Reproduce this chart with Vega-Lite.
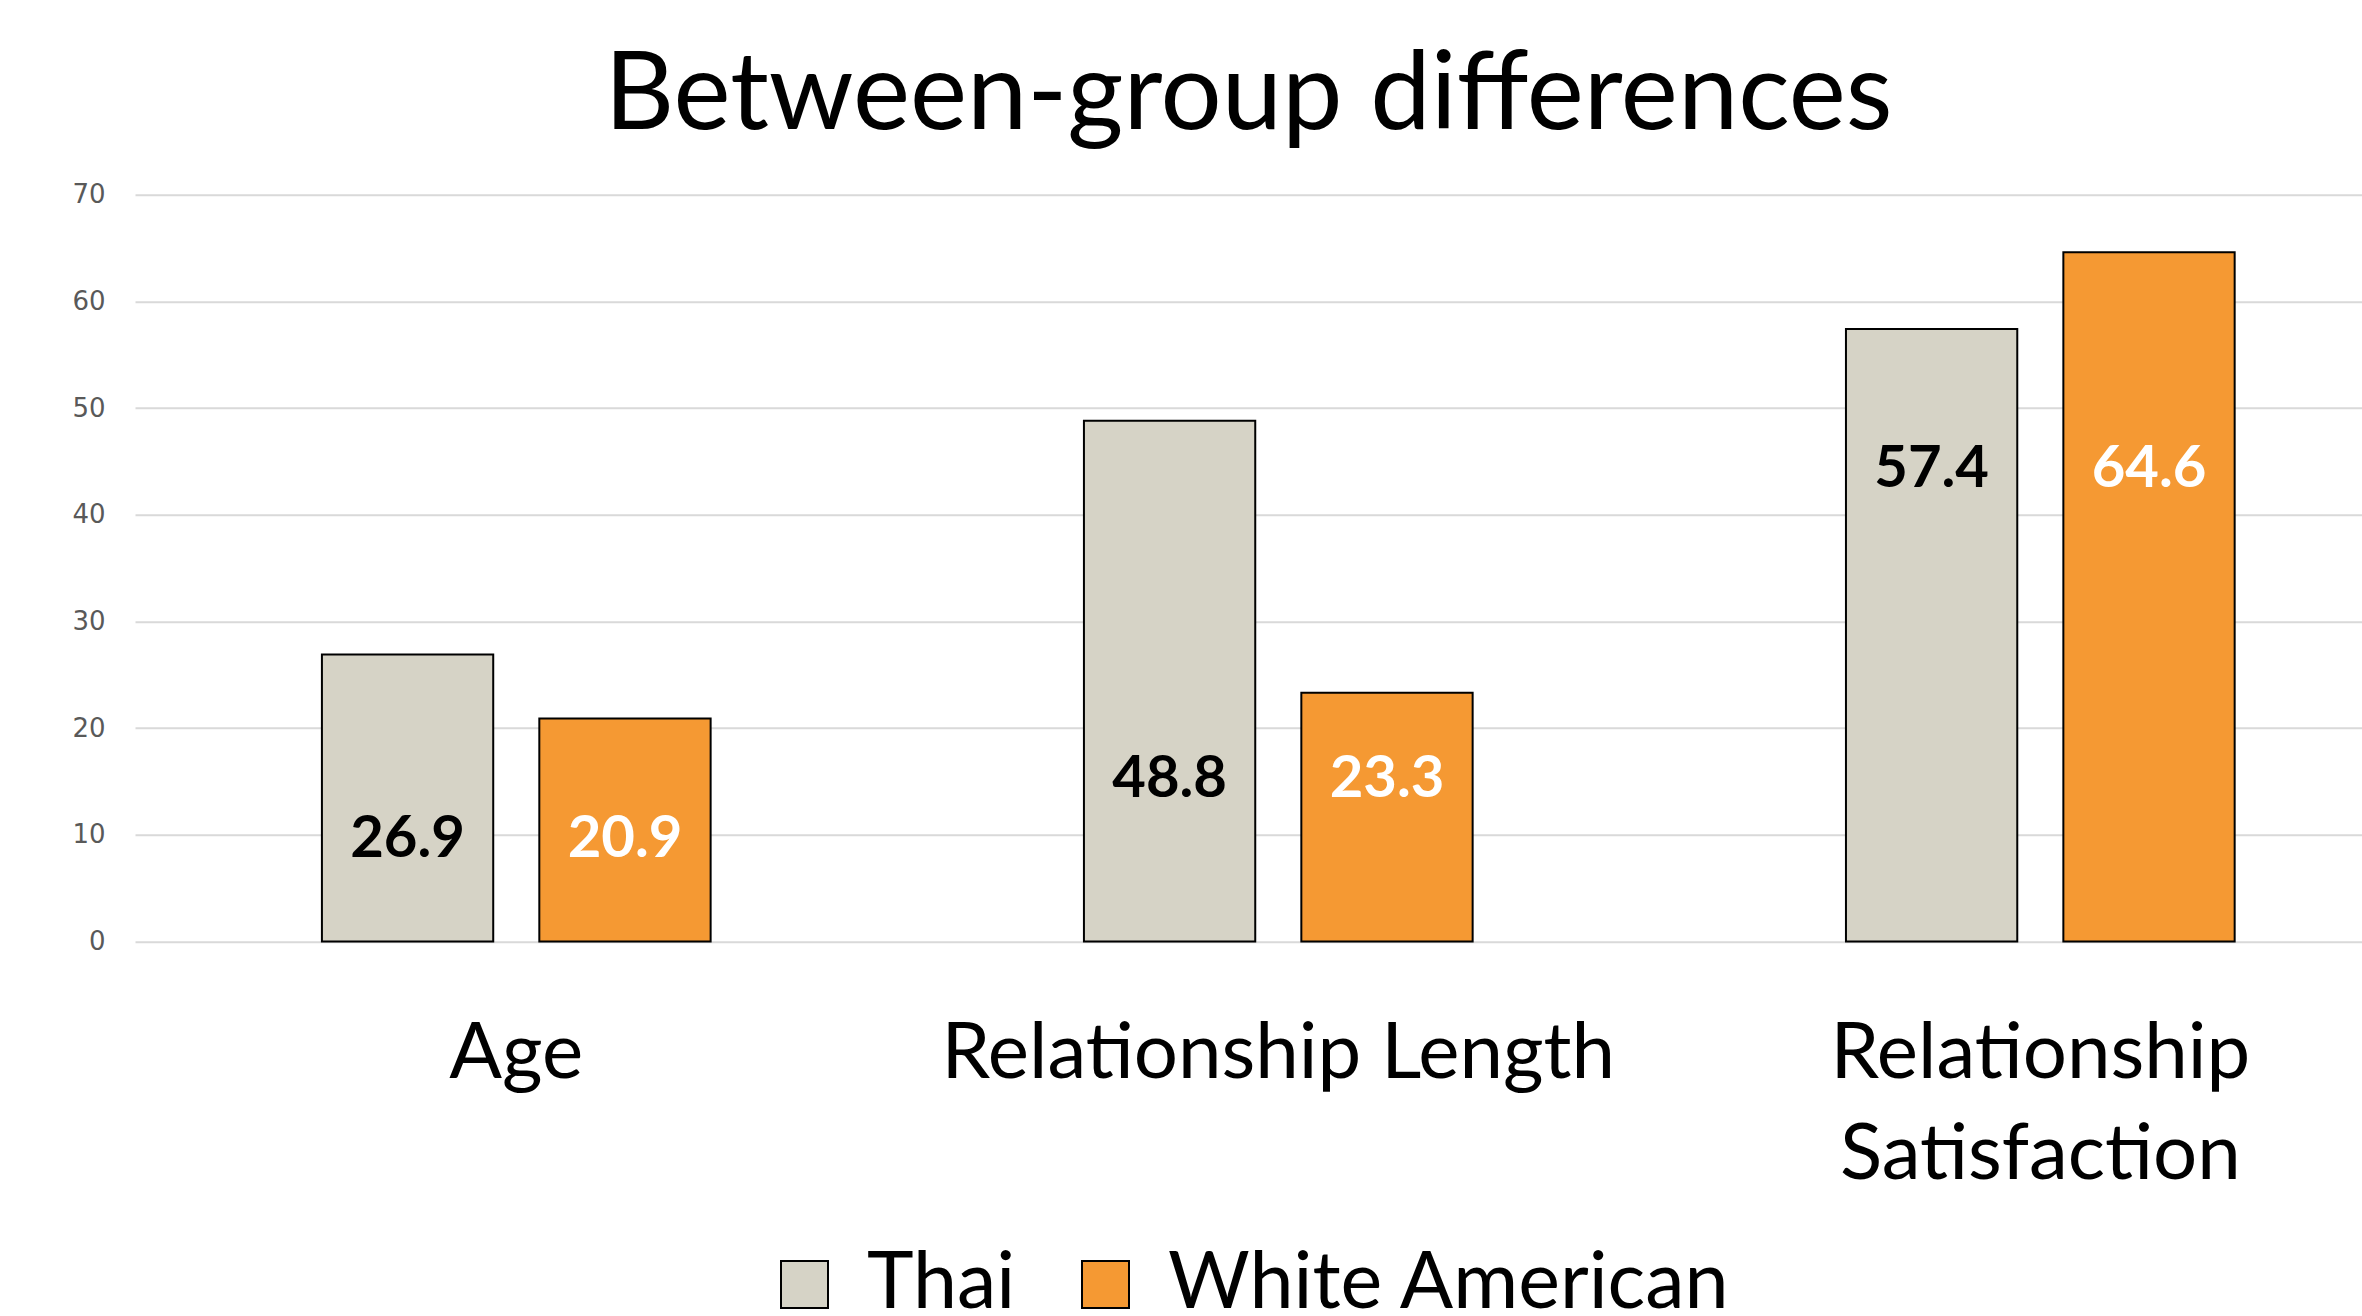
{
  "$schema": "https://vega.github.io/schema/vega-lite/v6.json",
  "width": 2227,
  "height": 746.7,
  "autosize": {"type": "none"},
  "padding": {"left": 135, "top": 194.7, "right": 0, "bottom": 374.6},
  "background": "white",
  "view": {"stroke": null},
  "config": {"legend": {"layout": {"bottom": {"anchor": "middle"}}}},
  "title": {
    "text": "Between-group differences",
    "font": "Lato",
    "fontSize": 108,
    "fontWeight": "normal",
    "color": "black",
    "baseline": "alphabetic",
    "anchor": "middle",
    "offset": -55
  },
  "data": {
    "values": [
      {"measure": "Age", "group": "Thai", "value": 26.9},
      {"measure": "Age", "group": "White American", "value": 20.9},
      {"measure": "Relationship Length", "group": "Thai", "value": 48.8},
      {"measure": "Relationship Length", "group": "White American", "value": 23.3},
      {"measure": "Relationship Satisfaction", "group": "Thai", "value": 57.4},
      {"measure": "Relationship Satisfaction", "group": "White American", "value": 64.6}
    ]
  },
  "transform": [
    {
      "calculate": "datum.measure === 'Age' ? 7.9 : datum.measure === 'Relationship Length' ? 13.5 : 42.6",
      "as": "labelAt"
    }
  ],
  "encoding": {
    "x": {
      "field": "measure",
      "type": "nominal",
      "sort": ["Age", "Relationship Length", "Relationship Satisfaction"],
      "scale": {"paddingInner": 0.4899, "paddingOuter": 0.2062, "align": 0.5948},
      "axis": {
        "title": null,
        "domain": false,
        "ticks": false,
        "tickSize": 0,
        "grid": false,
        "labelAngle": 0,
        "labelFont": "Lato",
        "labelFontSize": 78,
        "labelColor": "black",
        "labelBaseline": "alphabetic",
        "labelPadding": 136,
        "labelLineHeight": 101,
        "labelLimit": 0,
        "labelExpr": "datum.value === 'Relationship Satisfaction' ? ['Relationship', 'Satisfaction'] : datum.value"
      }
    },
    "xOffset": {
      "field": "group",
      "type": "nominal",
      "sort": ["Thai", "White American"],
      "scale": {"paddingInner": 0.212, "paddingOuter": 0}
    }
  },
  "layer": [
    {
      "mark": {"type": "bar", "stroke": "black", "strokeWidth": 2},
      "encoding": {
        "y": {
          "field": "value",
          "type": "quantitative",
          "scale": {"domain": [0, 70], "nice": false},
          "axis": {
            "title": null,
            "values": [0, 10, 20, 30, 40, 50, 60, 70],
            "domain": false,
            "ticks": false,
            "grid": true,
            "gridColor": "#d9d9d9",
            "gridWidth": 2,
            "labelFont": "DejaVu Sans",
            "labelFontSize": 26,
            "labelColor": "#595959",
            "labelPadding": 30
          }
        },
        "color": {
          "field": "group",
          "type": "nominal",
          "sort": ["Thai", "White American"],
          "scale": {"domain": ["Thai", "White American"], "range": ["#D6D3C6", "#F59933"]},
          "legend": {
            "title": null,
            "orient": "bottom",
            "direction": "horizontal",
            "symbolType": "square",
            "symbolSize": 2209,
            "symbolStrokeColor": "black",
            "symbolStrokeWidth": 2,
            "symbolOpacity": 1,
            "labelFont": "Lato",
            "labelFontSize": 79,
            "labelColor": "black",
            "labelOffset": 23,
            "columnPadding": 50,
            "labelLimit": 0,
            "offset": 50
          }
        }
      }
    },
    {
      "mark": {
        "type": "text",
        "font": "Lato",
        "fontWeight": "bold",
        "fontSize": 58,
        "baseline": "alphabetic",
        "align": "center"
      },
      "encoding": {
        "y": {"field": "labelAt", "type": "quantitative"},
        "text": {"field": "value", "type": "quantitative", "format": ".1f"},
        "color": {
          "condition": {"test": "datum.group === 'White American'", "value": "white"},
          "value": "black"
        }
      }
    }
  ]
}
